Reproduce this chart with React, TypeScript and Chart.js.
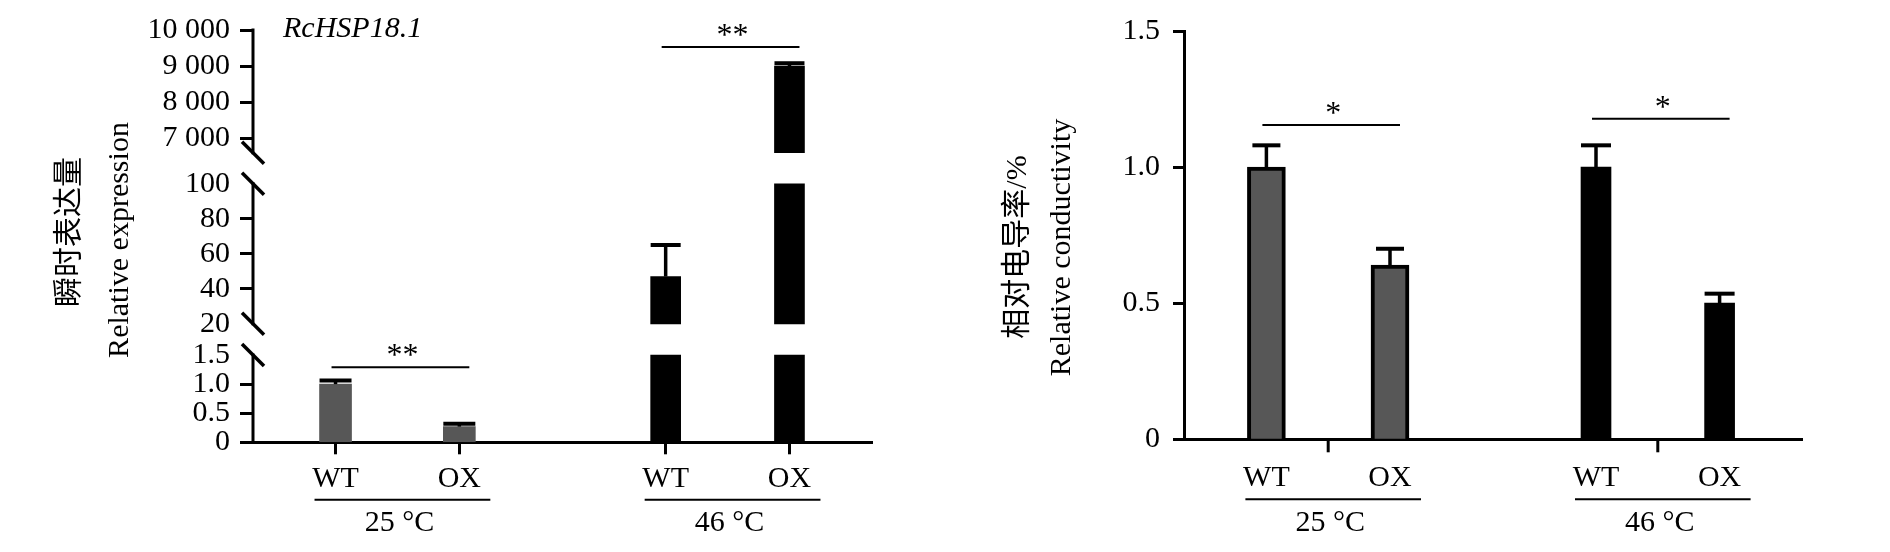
import React, { useEffect, useRef } from 'react';
import { Chart, registerables, LinearScale } from 'chart.js';

Chart.register(...registerables);

// ---------------- data ----------------
const GENOTYPES = ['WT', 'OX'];
const TEMPERATURES = ['25 °C', '46 °C'];

// Left panel: relative expression of RcHSP18.1
const EXPR_TITLE = 'RcHSP18.1';
const EXPR_Y_TITLE = ['瞬时表达量', 'Relative expression'];
const EXPR_MEAN_25 = [1.0, 0.27];
const EXPR_ERR_25 = [0.06, 0.05];
const EXPR_MEAN_46 = [47, 9000];
const EXPR_ERR_46 = [18, 80];
const EXPR_SIG_LEVEL = [1.29, 9530];
const EXPR_SIG_MARK = ['**', '**'];
const EXPR_TICK_VALUES = [0, 0.5, 1, 1.5, 20, 40, 60, 80, 100, 7000, 8000, 9000, 10000];
const EXPR_TICK_LABELS = ['0', '0.5', '1.0', '1.5', '20', '40', '60', '80', '100', '7 000', '8 000', '9 000', '10 000'];
const EXPR_UNMARKED_TICKS = [1.5, 20, 100];
const EXPR_SEGMENTS = [[0, 1.5], [20, 100], [6600, 10000]];

// Right panel: relative conductivity
const COND_Y_TITLE = ['相对电导率/%', 'Relative conductivity'];
const COND_MEAN_25 = [1.0, 0.64];
const COND_ERR_25 = [0.08, 0.06];
const COND_MEAN_46 = [1.0, 0.5];
const COND_ERR_46 = [0.08, 0.035];
const COND_SIG_LEVEL = [1.155, 1.178];
const COND_SIG_MARK = ['*', '*'];
const COND_TICK_VALUES = [0, 0.5, 1.0, 1.5];
const COND_TICK_LABELS = ['0', '0.5', '1.0', '1.5'];

// ---------------- layout / style ----------------
const W = 945;
const H = 552;
const SLOT_COUNT = 16;
const GROUP_SLOTS = [[2, 5], [10, 13]];
const SEGMENT_SPANS = [[0, 0.2117], [0.2874, 0.6272], [0.7022, 1]];
const FONT = "'Liberation Serif', 'Noto Sans CJK SC', serif";
const GRAY = '#575757';

Chart.defaults.font.family = FONT;
Chart.defaults.color = '#000';

class BrokenLinearScale extends LinearScale {
  static id = 'brokenLinear';
  buildTicks() {
    return EXPR_TICK_VALUES.map((value) => ({ value }));
  }
  valueToFraction(v: number) {
    const n = EXPR_SEGMENTS.length;
    for (let i = 0; i < n; i++) {
      const [lo, hi] = EXPR_SEGMENTS[i];
      const [f0, f1] = SEGMENT_SPANS[i];
      if (v <= hi || i === n - 1) {
        const c = Math.max(lo, Math.min(hi, v));
        return f0 + ((c - lo) / (hi - lo)) * (f1 - f0);
      }
    }
    return 1;
  }
  getPixelForValue(v: number) {
    const f = this.valueToFraction(v);
    return (this as any).bottom - f * ((this as any).bottom - (this as any).top);
  }
  getValueForPixel(p: number) {
    const self: any = this;
    const f = (self.bottom - p) / (self.bottom - self.top);
    for (let i = 0; i < EXPR_SEGMENTS.length; i++) {
      const [lo, hi] = EXPR_SEGMENTS[i];
      const [f0, f1] = SEGMENT_SPANS[i];
      if (f <= f1 || i === EXPR_SEGMENTS.length - 1) {
        const c = Math.max(f0, Math.min(f1, f));
        return lo + ((c - f0) / (f1 - f0)) * (hi - lo);
      }
    }
    return 0;
  }
}
Chart.register(BrokenLinearScale as any);

function slotLabels() {
  const arr = Array(SLOT_COUNT).fill('');
  GROUP_SLOTS.forEach((sl) => sl.forEach((s, k) => (arr[s] = GENOTYPES[k])));
  return arr;
}

function slotData(values: number[], g: number, map: (v: number) => any = (v) => v) {
  const arr: any[] = Array(SLOT_COUNT).fill(null);
  GROUP_SLOTS[g].forEach((s, k) => (arr[s] = map(values[k])));
  return arr;
}

function line(ctx: any, x1: number, y1: number, x2: number, y2: number, w: number) {
  ctx.lineWidth = w;
  ctx.beginPath();
  ctx.moveTo(x1, y1);
  ctx.lineTo(x2, y2);
  ctx.stroke();
}

function makeDecor(cfg: any) {
  return {
    id: 'decor',
    afterDatasetsDraw(chart: any) {
      const { ctx, scales } = chart;
      const x = scales.x;
      const y = scales.y;
      ctx.save();
      ctx.strokeStyle = '#000';
      ctx.lineCap = 'butt';
      cfg.groups.forEach((grp: any, g: number) => {
        grp.means.forEach((m: number, k: number) => {
          const px = x.getPixelForValue(GROUP_SLOTS[g][k]);
          const yMean = y.getPixelForValue(m);
          const yTop = y.getPixelForValue(m + grp.errs[k]);
          line(ctx, px, yMean, px, yTop, 3.5);
          line(ctx, px - grp.cap / 2, yTop, px + grp.cap / 2, yTop, 4);
        });
      });
      ctx.restore();
    },
    afterDraw(chart: any) {
      const { ctx, chartArea, scales } = chart;
      const x = scales.x;
      const y = scales.y;
      ctx.save();
      ctx.strokeStyle = '#000';
      ctx.fillStyle = '#000';

      if (cfg.brokenAxis) {
        const ax = chartArea.left;
        ctx.lineCap = 'square';
        EXPR_SEGMENTS.forEach(([lo, hi]) => line(ctx, ax, y.getPixelForValue(lo), ax, y.getPixelForValue(hi), 3));
        ctx.lineCap = 'butt';
        EXPR_SEGMENTS.forEach(([lo, hi], i) => {
          if (i > 0) {
            const yb = y.getPixelForValue(lo);
            line(ctx, ax - 11, yb - 11, ax + 11, yb + 11, 3.5);
          }
          if (i < EXPR_SEGMENTS.length - 1) {
            const yb = y.getPixelForValue(hi);
            line(ctx, ax - 11, yb - 11, ax + 11, yb + 11, 3.5);
          }
        });
      }

      if (cfg.groupTicks) {
        GROUP_SLOTS.forEach(([a, b]) => {
          const px = x.getPixelForValue((a + b) / 2);
          line(ctx, px, chartArea.bottom, px, chartArea.bottom + 13, 3);
        });
      }

      // significance lines
      ctx.font = `32px ${FONT}`;
      cfg.sigLevels.forEach((lvl: number, g: number) => {
        const [a, b] = GROUP_SLOTS[g];
        const x1 = x.getPixelForValue(a) - 4;
        const x2 = x.getPixelForValue(b) + 10;
        const yy = y.getPixelForValue(lvl);
        line(ctx, x1, yy, x2, yy, 2);
        ctx.textAlign = 'center';
        ctx.textBaseline = 'alphabetic';
        ctx.fillText(cfg.sigMarks[g], (x1 + x2) / 2 + 2, yy - 2);
      });

      // group underlines and temperature labels
      ctx.font = `30px ${FONT}`;
      GROUP_SLOTS.forEach(([a, b], g) => {
        const pa = x.getPixelForValue(a);
        const pb = x.getPixelForValue(b);
        line(ctx, pa - 21, cfg.underlineY, pb + 31, cfg.underlineY, 2);
        ctx.textAlign = 'center';
        ctx.textBaseline = 'middle';
        ctx.fillText(TEMPERATURES[g], (pa + pb) / 2 + 2, cfg.groupLabelY);
      });

      // y titles
      cfg.yTitle.forEach((t: string, i: number) => {
        const [cx, cy] = cfg.yTitlePos[i];
        ctx.save();
        ctx.translate(cx, cy);
        ctx.rotate(-Math.PI / 2);
        ctx.textAlign = 'center';
        ctx.textBaseline = 'middle';
        ctx.font = `30px ${FONT}`;
        ctx.fillText(t, 0, 0);
        ctx.restore();
      });

      if (cfg.title) {
        ctx.font = `italic 30px ${FONT}`;
        ctx.textAlign = 'left';
        ctx.textBaseline = 'middle';
        ctx.fillText(cfg.title, cfg.titlePos[0], cfg.titlePos[1]);
      }
      ctx.restore();
    },
  };
}

function xScale(bottom: number, tickSlots: number[], padding: number) {
  return {
    type: 'category',
    offset: false,
    z: 1,
    grid: {
      display: true,
      drawOnChartArea: false,
      offset: false,
      tickLength: 12,
      tickWidth: 3,
      tickColor: (c: any) => (tickSlots.includes(c.index) ? '#000' : 'rgba(0,0,0,0)'),
    },
    border: { display: true, color: '#000', width: 3 },
    ticks: {
      autoSkip: false,
      maxRotation: 0,
      minRotation: 0,
      padding,
      color: '#000',
      font: { family: FONT, size: 30 },
    },
    afterFit: (s: any) => {
      s.height = H - bottom;
    },
  };
}

function buildExpression(): any {
  const groups = [
    { means: EXPR_MEAN_25, errs: EXPR_ERR_25, color: GRAY, width: 32, cap: 32 },
    { means: EXPR_MEAN_46, errs: EXPR_ERR_46, color: '#000', width: 30, cap: 30 },
  ];
  const datasets: any[] = [];
  groups.forEach((grp, g) =>
    EXPR_SEGMENTS.forEach(([lo, hi]) =>
      datasets.push({
        label: `${TEMPERATURES[g]} ${lo}-${hi}`,
        data: slotData(grp.means, g, (v) => (v > lo ? [lo, Math.min(v, hi)] : null)),
        backgroundColor: grp.color,
        borderWidth: 0,
        barThickness: grp.width,
        grouped: false,
      })
    )
  );
  const top = 30;
  const bottom = 442.3;
  const left = 253;
  const right = 872;
  return {
    type: 'bar',
    data: { labels: slotLabels(), datasets },
    options: {
      animation: false,
      responsive: false,
      devicePixelRatio: 1,
      layout: { padding: { left: 0, top, right: W - right, bottom: 0 } },
      plugins: { legend: { display: false }, tooltip: { enabled: false } },
      scales: {
        x: xScale(bottom, GROUP_SLOTS.flat(), 7),
        y: {
          type: 'brokenLinear',
          min: 0,
          max: 10000,
          grid: {
            display: true,
            drawOnChartArea: false,
            tickLength: 13,
            tickWidth: 3,
            tickColor: (c: any) =>
              c.tick && EXPR_UNMARKED_TICKS.includes(c.tick.value) ? 'rgba(0,0,0,0)' : '#000',
          },
          border: { display: false },
          ticks: {
            autoSkip: false,
            padding: 10,
            color: '#000',
            font: { family: FONT, size: 30 },
            callback: (_v: any, i: number) => EXPR_TICK_LABELS[i],
          },
          afterFit: (s: any) => {
            s.width = left;
          },
        },
      },
    },
    plugins: [
      makeDecor({
        groups,
        brokenAxis: true,
        groupTicks: false,
        sigLevels: EXPR_SIG_LEVEL,
        sigMarks: EXPR_SIG_MARK,
        underlineY: 499.8,
        groupLabelY: 523.5,
        yTitle: EXPR_Y_TITLE,
        yTitlePos: [
          [70, 232],
          [120, 240],
        ],
        title: EXPR_TITLE,
        titlePos: [283, 29],
      }),
    ],
  };
}

function buildConductivity(): any {
  const groups = [
    { means: COND_MEAN_25, errs: COND_ERR_25, color: GRAY, width: 38, border: 4, cap: 28 },
    { means: COND_MEAN_46, errs: COND_ERR_46, color: '#000', width: 30, border: 0, cap: 30 },
  ];
  const datasets = groups.map((grp, g) => ({
    label: TEMPERATURES[g],
    data: slotData(grp.means, g),
    backgroundColor: grp.color,
    borderColor: '#000',
    borderWidth: grp.border,
    barThickness: grp.width,
    grouped: false,
  }));
  const top = 28.3;
  const bottom = 439.3;
  const left = 239;
  const right = 857;
  return {
    type: 'bar',
    data: { labels: slotLabels(), datasets },
    options: {
      animation: false,
      responsive: false,
      devicePixelRatio: 1,
      layout: { padding: { left: 0, top, right: W - right, bottom: 0 } },
      plugins: { legend: { display: false }, tooltip: { enabled: false } },
      scales: {
        x: xScale(bottom, [], 9),
        y: {
          type: 'linear',
          min: 0,
          max: 1.5,
          afterBuildTicks: (s: any) => {
            s.ticks = COND_TICK_VALUES.map((value) => ({ value }));
          },
          grid: {
            display: true,
            drawOnChartArea: false,
            tickLength: 11,
            tickWidth: 3,
            tickColor: '#000',
          },
          border: { display: true, color: '#000', width: 3 },
          ticks: {
            autoSkip: false,
            padding: 13,
            color: '#000',
            font: { family: FONT, size: 30 },
            callback: (_v: any, i: number) => COND_TICK_LABELS[i],
          },
          afterFit: (s: any) => {
            s.width = left;
          },
        },
      },
    },
    plugins: [
      makeDecor({
        groups,
        brokenAxis: false,
        groupTicks: true,
        sigLevels: COND_SIG_LEVEL,
        sigMarks: COND_SIG_MARK,
        underlineY: 499.3,
        groupLabelY: 523.5,
        yTitle: COND_Y_TITLE,
        yTitlePos: [
          [73, 247],
          [117, 247.5],
        ],
      }),
    ],
  };
}

function ChartCanvas({ build, left }: { build: () => any; left: number }) {
  const ref = useRef<HTMLCanvasElement>(null);
  useEffect(() => {
    const chart = new Chart(ref.current as HTMLCanvasElement, build());
    return () => chart.destroy();
  }, [build]);
  return (
    <canvas
      ref={ref}
      width={W}
      height={H}
      style={{ position: 'absolute', left, top: 0, width: W, height: H }}
    />
  );
}

export default function App() {
  return (
    <div style={{ position: 'absolute', left: 0, top: 0, width: 1890, height: 552, background: '#fff' }}>
      <ChartCanvas build={buildExpression} left={0} />
      <ChartCanvas build={buildConductivity} left={945} />
    </div>
  );
}
